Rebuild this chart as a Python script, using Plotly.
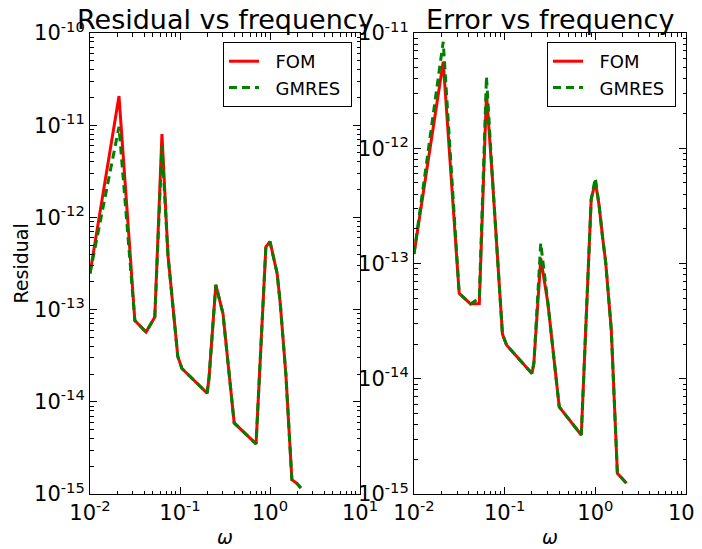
import plotly.graph_objects as go

# ---- data ----
freq = [0.01, 0.021, 0.0315, 0.042, 0.0525, 0.063, 0.0735, 0.0945, 0.105, 0.2, 0.21,
        0.25, 0.3, 0.4, 0.7, 0.8, 0.9, 1.0, 1.1, 1.2, 1.3, 1.5, 1.75, 2.0, 2.2]

fom_residual = [2.47e-13, 2.07e-11, 7.6e-14, 5.7e-14, 8.3e-14, 8.0e-12, 3.9e-13, 3.1e-14,
                2.3e-14, 1.24e-14, 1.8e-14, 1.85e-13, 9.1e-14, 5.9e-15, 3.5e-15, 5.3e-14,
                4.8e-13, 5.45e-13, 3.7e-13, 2.47e-13, 1.17e-13, 2.0e-14, 1.43e-15, 1.3e-15,
                1.16e-15]
gmres_residual = [2.47e-13, 9.6e-12, 7.6e-14, 5.7e-14, 8.3e-14, 5.9e-12, 3.9e-13, 3.1e-14,
                  2.3e-14, 1.24e-14, 1.8e-14, 1.85e-13, 9.1e-14, 5.9e-15, 3.5e-15, 5.3e-14,
                  4.8e-13, 5.45e-13, 3.7e-13, 2.47e-13, 1.17e-13, 2.0e-14, 1.43e-15, 1.3e-15,
                  1.16e-15]

fom_error = [1.21e-13, 5.64e-12, 5.5e-14, 4.46e-14, 4.5e-14, 3.0e-12, 5.3e-13, 2.44e-14,
             1.96e-14, 1.11e-14, 1.37e-14, 1.11e-13, 4.5e-14, 5.7e-15, 3.25e-15, 3.37e-14,
             3.6e-13, 5.13e-13, 3.2e-13, 1.71e-13, 1.03e-13, 2.65e-14, 1.51e-15, 1.35e-15,
             1.24e-15]
gmres_error = [1.21e-13, 8.4e-12, 5.5e-14, 4.46e-14, 5.0e-14, 4.18e-12, 5.3e-13, 2.44e-14,
               1.96e-14, 1.11e-14, 1.37e-14, 1.5e-13, 4.5e-14, 5.7e-15, 3.25e-15, 3.37e-14,
               3.6e-13, 5.5e-13, 3.2e-13, 1.71e-13, 1.03e-13, 2.65e-14, 1.51e-15, 1.35e-15,
               1.24e-15]

series_names = ["\u00a0\u00a0FOM", "\u00a0\u00a0GMRES\u00a0"]

x_tickvals = [0.01, 0.1, 1, 10]
x_ticktext = ["10<sup>-2</sup>", "10<sup>-1</sup>", "10<sup>0</sup>", "10<sup>1</sup>"]
y1_tickvals = [1e-15, 1e-14, 1e-13, 1e-12, 1e-11, 1e-10]
y1_ticktext = ["10<sup>-15</sup>", "10<sup>-14</sup>", "10<sup>-13</sup>",
               "10<sup>-12</sup>", "10<sup>-11</sup>", "10<sup>-10</sup>"]
y2_tickvals = [1e-15, 1e-14, 1e-13, 1e-12, 1e-11]
y2_ticktext = ["10<sup>-15</sup>", "10<sup>-14</sup>", "10<sup>-13</sup>",
               "10<sup>-12</sup>", "10<sup>-11</sup>"]

# page body has an 8px margin; figure coordinates = screen - 8
OFF = 8
W, H = 702 - OFF, 549 - OFF
FONT = "DejaVu Sans"
RED = "#ff0000"
GREEN = "#008000"


def px_x(sx):
    return (sx - OFF) / W


def px_y(sy):
    return (H - (sy - OFF)) / H


def minor_vals(lo, hi):
    out = []
    for e in range(lo, hi):
        for m in range(2, 10):
            out.append(m * 10.0 ** e)
    return out


fig = go.Figure()
fig.add_trace(go.Scatter(x=freq, y=fom_residual, mode="lines", name=series_names[0],
                         line=dict(color=RED, width=3), xaxis="x", yaxis="y",
                         legend="legend"))
fig.add_trace(go.Scatter(x=freq, y=gmres_residual, mode="lines", name=series_names[1],
                         line=dict(color=GREEN, width=3, dash="8px,5px"), xaxis="x",
                         yaxis="y", legend="legend"))
fig.add_trace(go.Scatter(x=freq, y=fom_error, mode="lines", name=series_names[0],
                         line=dict(color=RED, width=3), xaxis="x2", yaxis="y2",
                         legend="legend2"))
fig.add_trace(go.Scatter(x=freq, y=gmres_error, mode="lines", name=series_names[1],
                         line=dict(color=GREEN, width=3, dash="8px,5px"), xaxis="x2",
                         yaxis="y2", legend="legend2"))

axis_common = dict(type="log", showgrid=False, zeroline=False, showline=True,
                   linecolor="black", linewidth=1, mirror="allticks", ticks="inside",
                   ticklen=7, tickwidth=1, tickcolor="black", tickmode="array",
                   automargin=False, ticklabeloverflow="allow",
                   tickfont=dict(family=FONT, size=21, color="black"))

top = px_y(33)
bot = px_y(494)
l1, r1 = px_x(90), px_x(360)
l2, r2 = px_x(414), px_x(686)

fig.update_layout(
    width=W, height=H, margin=dict(l=0, r=0, t=0, b=0, autoexpand=False),
    paper_bgcolor="white", plot_bgcolor="white",
    font=dict(family=FONT, color="black"),
    xaxis=dict(axis_common, domain=[l1, r1], anchor="y", range=[-2, 1],
               tickvals=x_tickvals, ticktext=x_ticktext,
               minor=dict(ticks="inside", ticklen=3.5, tickcolor="black",
                          tickvals=minor_vals(-2, 1))),
    yaxis=dict(axis_common, domain=[bot, top], anchor="x", range=[-15, -10],
               tickvals=y1_tickvals, ticktext=y1_ticktext,
               minor=dict(ticks="inside", ticklen=3.5, tickcolor="black",
                          tickvals=minor_vals(-15, -10))),
    xaxis2=dict(axis_common, domain=[l2, r2], anchor="y2", range=[-2, 1],
                tickvals=x_tickvals, ticktext=x_ticktext,
                minor=dict(ticks="inside", ticklen=3.5, tickcolor="black",
                           tickvals=minor_vals(-2, 1))),
    yaxis2=dict(axis_common, domain=[bot, top], anchor="x2", range=[-15, -11],
                tickvals=y2_tickvals, ticktext=y2_ticktext,
                minor=dict(ticks="inside", ticklen=3.5, tickcolor="black",
                           tickvals=minor_vals(-15, -11))),
    legend=dict(x=px_x(352), y=px_y(42), xanchor="right", yanchor="top",
                bordercolor="black", borderwidth=1, bgcolor="white",
                font=dict(family=FONT, size=18, color="black")),
    legend2=dict(x=px_x(676), y=px_y(42), xanchor="right", yanchor="top",
                 bordercolor="black", borderwidth=1, bgcolor="white",
                 font=dict(family=FONT, size=18, color="black")),
    annotations=[
        dict(text="Residual vs frequency", x=(l1 + r1) / 2, y=px_y(20), xref="paper",
             yref="paper", xanchor="center", yanchor="middle", showarrow=False,
             font=dict(family=FONT, size=27, color="black")),
        dict(text="Error vs frequency", x=(l2 + r2) / 2, y=px_y(20), xref="paper",
             yref="paper", xanchor="center", yanchor="middle", showarrow=False,
             font=dict(family=FONT, size=27, color="black")),
        dict(text="Residual", x=px_x(20), y=(bot + top) / 2, xref="paper", yref="paper",
             xanchor="center", yanchor="middle", textangle=-90, showarrow=False,
             font=dict(family=FONT, size=19, color="black")),
        dict(text="<i>ω</i>", x=(l1 + r1) / 2, y=px_y(537), xref="paper",
             yref="paper", xanchor="center", yanchor="middle", showarrow=False,
             font=dict(family=FONT, size=19, color="black")),
        dict(text="<i>ω</i>", x=(l2 + r2) / 2, y=px_y(537), xref="paper",
             yref="paper", xanchor="center", yanchor="middle", showarrow=False,
             font=dict(family=FONT, size=19, color="black")),
    ],
)

fig.write_html("out.html")
